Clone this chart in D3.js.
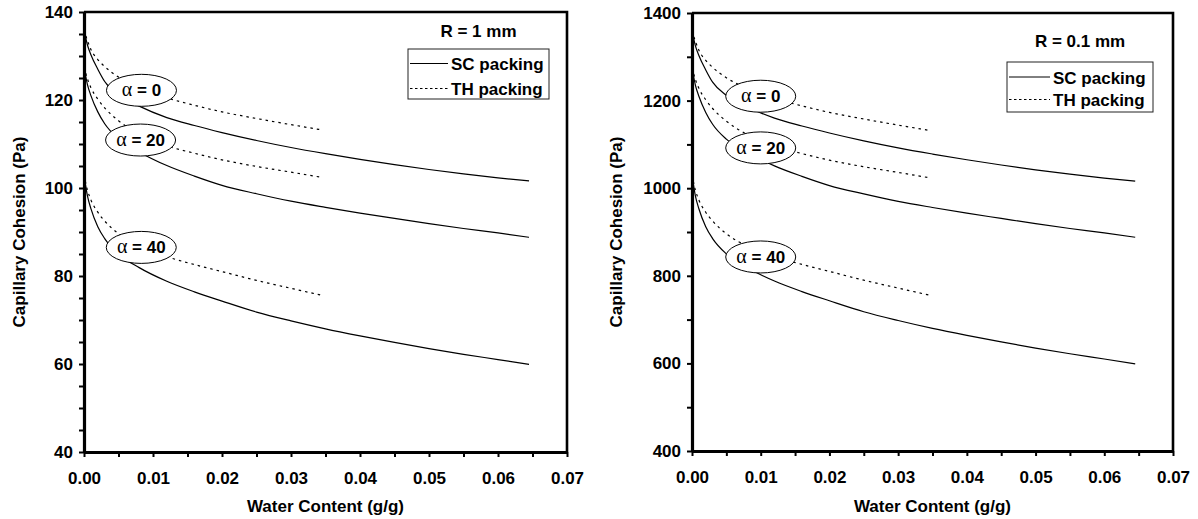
<!DOCTYPE html>
<html>
<head>
<meta charset="utf-8">
<script src="https://cdn.jsdelivr.net/npm/d3@7"></script>
<style>
  body { margin: 0; background: #fff; }
  text { font-family: "Liberation Sans", Arial, sans-serif; font-weight: bold; font-size: 17px; fill: #000; }
</style>
</head>
<body>
<svg id="chart" width="1198" height="519"></svg>
<script>
// water content (g/g) at which the curves were read
const waterSC = [0, 0.0005, 0.001, 0.002, 0.003, 0.005, 0.008, 0.012, 0.016, 0.02, 0.025, 0.03, 0.035, 0.04, 0.045, 0.05, 0.055, 0.06, 0.0645];
const waterTH = [0, 0.0005, 0.001, 0.002, 0.003, 0.005, 0.008, 0.012, 0.016, 0.02, 0.025, 0.03, 0.0345];

const alphas = [0, 20, 40];

// R = 1 mm, capillary cohesion (Pa)
const sc1mm_a0  = [136, 132.5, 130.3, 127, 124.2, 121.2, 118.6, 116.0, 114.2, 112.6, 110.8, 109.2, 107.8, 106.5, 105.3, 104.2, 103.2, 102.3, 101.6];
const sc1mm_a20 = [127.5, 123.5, 121.0, 117.3, 114.6, 111.2, 108.2, 105.1, 102.7, 100.6, 98.7, 97.0, 95.6, 94.3, 93.1, 91.9, 90.8, 89.8, 88.8];
const sc1mm_a40 = [103, 98.2, 95.3, 91.2, 88.5, 85.0, 81.9, 78.8, 76.4, 74.3, 71.8, 69.8, 68.0, 66.4, 64.9, 63.5, 62.2, 61.0, 59.9];
const th1mm_a0  = [136, 133.5, 131.5, 129.2, 127.6, 125.2, 122.8, 120.5, 118.8, 117.3, 115.8, 114.4, 113.2];
const th1mm_a20 = [127.5, 124.8, 122.8, 120.2, 118.2, 115.3, 112.3, 109.6, 107.9, 106.4, 104.9, 103.6, 102.4];
const th1mm_a40 = [103, 99.5, 97.3, 94.5, 92.5, 89.6, 86.8, 84.4, 82.6, 81.0, 79.0, 77.2, 75.6];

// R = 0.1 mm
const sc01mm_a0  = [1360, 1325, 1303, 1270, 1242, 1212, 1186, 1160, 1142, 1126, 1108, 1092, 1078, 1065, 1053, 1042, 1032, 1023, 1016];
const sc01mm_a20 = [1275, 1235, 1210, 1173, 1146, 1112, 1082, 1051, 1027, 1006, 987, 970, 956, 943, 931, 919, 908, 898, 888];
const sc01mm_a40 = [1030, 982, 953, 912, 885, 850, 819, 788, 764, 743, 718, 698, 680, 664, 649, 635, 622, 610, 599];
const th01mm_a0  = [1360, 1335, 1315, 1292, 1276, 1252, 1228, 1205, 1188, 1173, 1158, 1144, 1132];
const th01mm_a20 = [1275, 1248, 1228, 1202, 1182, 1153, 1123, 1096, 1079, 1064, 1049, 1036, 1024];
const th01mm_a40 = [1030, 995, 973, 945, 925, 896, 868, 844, 826, 810, 790, 772, 756];

const xTicks = d3.range(0, 0.0701, 0.005);
const yTicks1mm = d3.range(40, 141, 5);
const yTicks01mm = d3.range(400, 1401, 100);

const svg = d3.select("#chart");

function drawPanel(p){
  const x = d3.scaleLinear().domain([0, 0.07]).range([p.left, p.right]);
  const y = d3.scaleLinear().domain(p.yDomain).range([p.bottom, p.top]);
  const g = svg.append("g");

  // top and right frame
  g.append("path")
    .attr("d", `M${p.left},${p.top}H${p.right}V${p.bottom}`)
    .attr("fill", "none").attr("stroke", "#000").attr("stroke-width", 2.6);

  const line = d3.line().x(d => x(d[0])).y(d => y(d[1])).curve(d3.curveMonotoneX);
  p.sc.forEach(vals => {
    g.append("path").datum(waterSC.map((w, i) => [w, vals[i]]))
      .attr("d", line).attr("fill", "none").attr("stroke", "#000").attr("stroke-width", 1.2);
  });
  p.th.forEach(vals => {
    g.append("path").datum(waterTH.map((w, i) => [w, vals[i]]))
      .attr("d", line).attr("fill", "none").attr("stroke", "#000").attr("stroke-width", 1.2)
      .attr("stroke-dasharray", "2.5,4");
  });

  // alpha labels in ellipses
  alphas.forEach((a, i) => {
    const cx = x(p.labelAt[i][0]), cy = y(p.labelAt[i][1]);
    g.append("ellipse").attr("cx", cx).attr("cy", cy).attr("rx", 35).attr("ry", 16)
      .attr("fill", "#fff").attr("stroke", "#000").attr("stroke-width", 1);
    const t = g.append("text").attr("x", cx).attr("y", cy + 6).attr("text-anchor", "middle");
    t.append("tspan").style("font-family", "'Liberation Serif', 'DejaVu Serif', serif")
      .style("font-weight", "normal").style("font-size", "20px").text("\u03B1");
    t.append("tspan").text(" = " + a);
  });

  // axes
  const xAxis = g.append("g").attr("transform", `translate(0,${p.bottom})`)
    .call(d3.axisBottom(x).tickValues(xTicks).tickSize(5).tickSizeOuter(0).tickPadding(15)
      .tickFormat((d, i) => i % 2 ? "" : d3.format(".2f")(d)));
  const yAxis = g.append("g").attr("transform", `translate(${p.left},0)`)
    .call(d3.axisLeft(y).tickValues(p.yTicks).tickSize(5).tickSizeOuter(0).tickPadding(6)
      .tickFormat((d, i) => i % p.labelEvery ? "" : d));
  [xAxis, yAxis].forEach(a => {
    a.select(".domain").attr("stroke-width", 3.2);
    a.selectAll(".tick line").attr("stroke-width", 2);
    a.selectAll("text").attr("font-family", null).attr("font-size", null);
  });

  // titles
  g.append("text").attr("x", (p.left + p.right) / 2).attr("y", 512).attr("text-anchor", "middle")
    .text("Water Content (g/g)");
  g.append("text").attr("transform", `translate(${p.yTitleX},${(p.top + p.bottom) / 2}) rotate(-90)`)
    .attr("text-anchor", "middle").text("Capillary Cohesion (Pa)");

  // legend
  const L = p.legend;
  g.append("text").attr("x", L.x + L.w / 2).attr("y", L.titleY).attr("text-anchor", "middle").text(p.title);
  g.append("rect").attr("x", L.x).attr("y", L.y).attr("width", L.w).attr("height", L.h)
    .attr("fill", "#fff").attr("stroke", "#222").attr("stroke-width", 1);
  [["SC packing", null, L.row1], ["TH packing", "2.5,2.5", L.row2]].forEach(([name, dash, ry]) => {
    g.append("line").attr("x1", L.x + 2).attr("x2", L.x + L.sw).attr("y1", ry).attr("y2", ry)
      .attr("stroke", "#000").attr("stroke-width", 1).attr("stroke-dasharray", dash);
    g.append("text").attr("x", L.x + L.sw + 3).attr("y", ry + 6.5).text(name);
  });
}

drawPanel({
  left: 84, right: 567, top: 12, bottom: 452,
  yDomain: [40, 140], yTicks: yTicks1mm, labelEvery: 4, yTitleX: 25,
  sc: [sc1mm_a0, sc1mm_a20, sc1mm_a40], th: [th1mm_a0, th1mm_a20, th1mm_a40],
  labelAt: [[0.00833, 122.2], [0.0082, 110.9], [0.0083, 86.5]],
  title: "R = 1 mm",
  legend: { x: 408, y: 49, w: 141, h: 50, titleY: 37, row1: 63.5, row2: 88.5, sw: 40 }
});

drawPanel({
  left: 692, right: 1173, top: 13, bottom: 451,
  yDomain: [400, 1400], yTicks: yTicks01mm, labelEvery: 2, yTitleX: 622,
  sc: [sc01mm_a0, sc01mm_a20, sc01mm_a40], th: [th01mm_a0, th01mm_a20, th01mm_a40],
  labelAt: [[0.0100, 1210], [0.0100, 1092], [0.0100, 843]],
  title: "R = 0.1 mm",
  legend: { x: 1007, y: 62, w: 146, h: 50, titleY: 47, row1: 77, row2: 99.5, sw: 43 }
});
</script>
</body>
</html>
